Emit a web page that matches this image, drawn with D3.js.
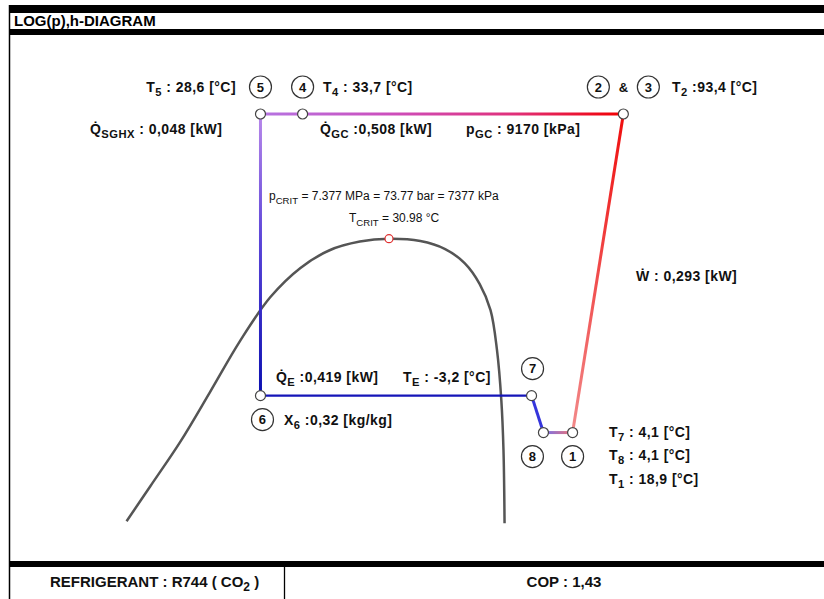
<!DOCTYPE html>
<html>
<head>
<meta charset="utf-8">
<script src="https://cdn.jsdelivr.net/npm/d3@7"></script>
<style>
html, body { margin: 0; padding: 0; background: #fff; }
svg { display: block; font-family: "Liberation Sans", Arial, sans-serif; }
.lbl { font-weight: bold; font-size: 14px; letter-spacing: 0.45px; fill: #111; }
.thin { font-weight: normal; font-size: 12px; fill: #111; }
.foot { font-weight: bold; font-size: 15px; fill: #111; }
.num { font-weight: bold; font-size: 13px; fill: #111; text-anchor: middle; }
</style>
</head>
<body>
<svg id="chart" width="824" height="599"></svg>
<script>
// cycle state points: enthalpy h [kJ/kg] and pressure p [kPa] (schematic diagram)
const stateIds = ["5", "4", "2", "1", "8", "7", "6"];
const stateH   = [213, 252, 549, 502, 475, 464, 213];
const stateP   = [9170, 9170, 9170, 5260, 5260, 5610, 5610];

// saturation dome (liquid line -> critical point -> vapour line)
const domeH = [89, 111, 139, 166, 194, 222, 250, 277, 305, 332, 361, 384, 402, 416, 426, 432, 436, 438, 439];
const domeP = [4506, 4790, 5180, 5640, 6170, 6660, 7010, 7230, 7340, 7377, 7347, 7245, 7069, 6816, 6512, 6074, 5566, 5102, 4490];

const critH = 332, critP = 7377;

// results
const T5 = 28.6, T4 = 33.7, T2 = 93.4, T7 = 4.1, T8 = 4.1, T1 = 18.9, TE = -3.2;
const Q_SGHX = 0.048, Q_GC = 0.508, Q_E = 0.419, W = 0.293, X6 = 0.32;
const pGC = 9170, COP = 1.43;
const pCritMPa = 7.377, pCritBar = 73.77, TCrit = 30.98;

const fc = (v, n) => v.toFixed(n).replace('.', ',');

const svg = d3.select('#chart');
const x = d3.scaleLinear().domain([80, 560]).range([116.84, 635.24]);
const y = d3.scaleLog().domain([4500, 9170]).range([522, 114]);

const S = {};
stateIds.forEach((id, i) => S[id] = {h: stateH[i], p: stateP[i], x: x(stateH[i]), y: y(stateP[i])});

// ---- frame
svg.append('rect').attr('x', 9).attr('y', 5).attr('width', 815).attr('height', 8).attr('fill', '#000');
svg.append('rect').attr('x', 9).attr('y', 29).attr('width', 815).attr('height', 6).attr('fill', '#000');
svg.append('rect').attr('x', 9).attr('y', 561).attr('width', 815).attr('height', 6).attr('fill', '#000');
svg.append('line').attr('x1', 9.5).attr('x2', 9.5).attr('y1', 5).attr('y2', 599).attr('stroke', '#000').attr('stroke-width', 1.5);
svg.append('line').attr('x1', 284.5).attr('x2', 284.5).attr('y1', 566).attr('y2', 599).attr('stroke', '#000').attr('stroke-width', 1.3);
svg.append('text').attr('x', 14).attr('y', 26).attr('font-weight', 'bold').attr('font-size', 15).attr('fill', '#000')
    .text('LOG(p),h-DIAGRAM');

// ---- dome
const dome = d3.range(domeH.length).map(i => [x(domeH[i]), y(domeP[i])]);
svg.append('path').attr('d', d3.line().curve(d3.curveCatmullRom)(dome))
    .attr('fill', 'none').attr('stroke', '#555').attr('stroke-width', 2.5);

// ---- gradients for the cycle lines
const defs = svg.append('defs');
function grad(id, a, b, stops) {
    const g = defs.append('linearGradient').attr('id', id).attr('gradientUnits', 'userSpaceOnUse')
        .attr('x1', a.x).attr('y1', a.y).attr('x2', b.x).attr('y2', b.y);
    stops.forEach(s => g.append('stop').attr('offset', s[0]).attr('stop-color', s[1]));
    return `url(#${id})`;
}
const segs = [
    {a: '5', b: '6', w: 3, c: grad('g56', S['5'], S['6'], [[0, '#b988ea'], [0.45, '#5b45d8'], [1, '#0a0fb0']])},
    {a: '5', b: '2', w: 3, c: grad('g52', S['5'], S['2'], [[0, '#b574e2'], [0.35, '#cc4fbd'], [0.7, '#e0307a'], [1, '#f20000']])},
    {a: '6', b: '7', w: 2.2, c: '#1515b8'},
    {a: '7', b: '8', w: 3, c: '#3535dc'},
    {a: '8', b: '1', w: 3, c: grad('g81', S['8'], S['1'], [[0, '#7070ee'], [1, '#f07272']])},
    {a: '1', b: '2', w: 3, c: grad('g12', S['1'], S['2'], [[0, '#f28a8a'], [1, '#ef0d0d']])}
];
svg.append('g').selectAll('line').data(segs).join('line')
    .attr('x1', d => S[d.a].x).attr('y1', d => S[d.a].y)
    .attr('x2', d => S[d.b].x).attr('y2', d => S[d.b].y)
    .attr('stroke', d => d.c).attr('stroke-width', d => d.w).attr('stroke-linecap', 'butt');

// ---- state point markers
svg.append('g').selectAll('circle').data(stateIds).join('circle')
    .attr('cx', d => S[d].x).attr('cy', d => S[d].y).attr('r', 5)
    .attr('fill', '#fff').attr('stroke', '#444').attr('stroke-width', 1.2);
svg.append('circle').attr('cx', x(critH)).attr('cy', y(critP)).attr('r', 4)
    .attr('fill', '#fff').attr('stroke', '#e03030').attr('stroke-width', 1.2);

// ---- numbered bubbles
const bubbles = [
    {t: '5', cx: S['5'].x, cy: S['5'].y - 27},
    {t: '4', cx: S['4'].x, cy: S['4'].y - 27},
    {t: '2', cx: S['2'].x - 25, cy: S['2'].y - 27},
    {t: '3', cx: S['2'].x + 25, cy: S['2'].y - 27},
    {t: '7', cx: S['7'].x + 1, cy: S['7'].y - 27},
    {t: '6', cx: S['6'].x + 2, cy: S['6'].y + 24},
    {t: '8', cx: S['8'].x - 11, cy: S['8'].y + 24},
    {t: '1', cx: S['1'].x, cy: S['1'].y + 24}
];
const bg = svg.append('g').selectAll('g').data(bubbles).join('g');
bg.append('circle').attr('cx', d => d.cx).attr('cy', d => d.cy).attr('r', 11)
    .attr('fill', '#fff').attr('stroke', '#333').attr('stroke-width', 1.2);
bg.append('text').attr('class', 'num').attr('x', d => d.cx).attr('y', d => d.cy + 4.5).text(d => d.t);
svg.append('text').attr('class', 'num').attr('x', S['2'].x).attr('y', S['2'].y - 22.5).text('&');

// ---- rich labels with subscripts
function rich(xp, yp, parts, cls, anchor) {
    const t = svg.append('text').attr('class', cls || 'lbl').attr('x', xp).attr('y', yp)
        .attr('text-anchor', anchor || 'start');
    let shift = 0;
    parts.forEach(p => {
        const sub = Array.isArray(p);
        const s = t.append('tspan').text(sub ? p[0] : p);
        const target = sub ? 4 : 0;
        if (target !== shift) s.attr('dy', target - shift);
        if (sub) s.attr('font-size', '0.8em');
        shift = target;
    });
    return t;
}
const Qd = 'Q\u0307';
rich(236, 92, ['T', ['5'], ' : ' + fc(T5, 1) + ' [°C]'], 'lbl', 'end');
rich(323, 92, ['T', ['4'], ' : ' + fc(T4, 1) + ' [°C]']);
rich(672, 92, ['T', ['2'], ' :' + fc(T2, 1) + ' [°C]']);
rich(90, 134, [Qd, ['SGHX'], ' :  ' + fc(Q_SGHX, 3) + ' [kW]']);
rich(320, 134, [Qd, ['GC'], ' :' + fc(Q_GC, 3) + ' [kW]']);
rich(466, 134, ['p', ['GC'], ' : ' + pGC + ' [kPa]']);
rich(269, 200, ['p', ['CRIT'], ' = ' + pCritMPa + ' MPa = ' + pCritBar + ' bar = ' + Math.round(pCritMPa * 1000) + ' kPa'], 'thin');
rich(349, 222, ['T', ['CRIT'], ' = ' + TCrit + '  °C'], 'thin');
rich(636, 281, ['W\u0307 : ' + fc(W, 3) + ' [kW]']);
rich(276, 382, [Qd, ['E'], ' :' + fc(Q_E, 3) + ' [kW]']);
rich(403, 382, ['T', ['E'], ' : ' + fc(TE, 1) + ' [°C]']);
rich(284, 425, ['X', ['6'], ' :' + fc(X6, 2) + ' [kg/kg]']);
rich(609, 437, ['T', ['7'], ' : ' + fc(T7, 1) + ' [°C]']);
rich(609, 460, ['T', ['8'], ' : ' + fc(T8, 1) + ' [°C]']);
rich(609, 484, ['T', ['1'], ' : ' + fc(T1, 1) + ' [°C]']);

// ---- footer
rich(50, 587, ['REFRIGERANT : R744  ( CO', ['2'], ' )'], 'foot');
rich(564, 587, ['COP : ' + fc(COP, 2)], 'foot', 'middle');
</script>
</body>
</html>
